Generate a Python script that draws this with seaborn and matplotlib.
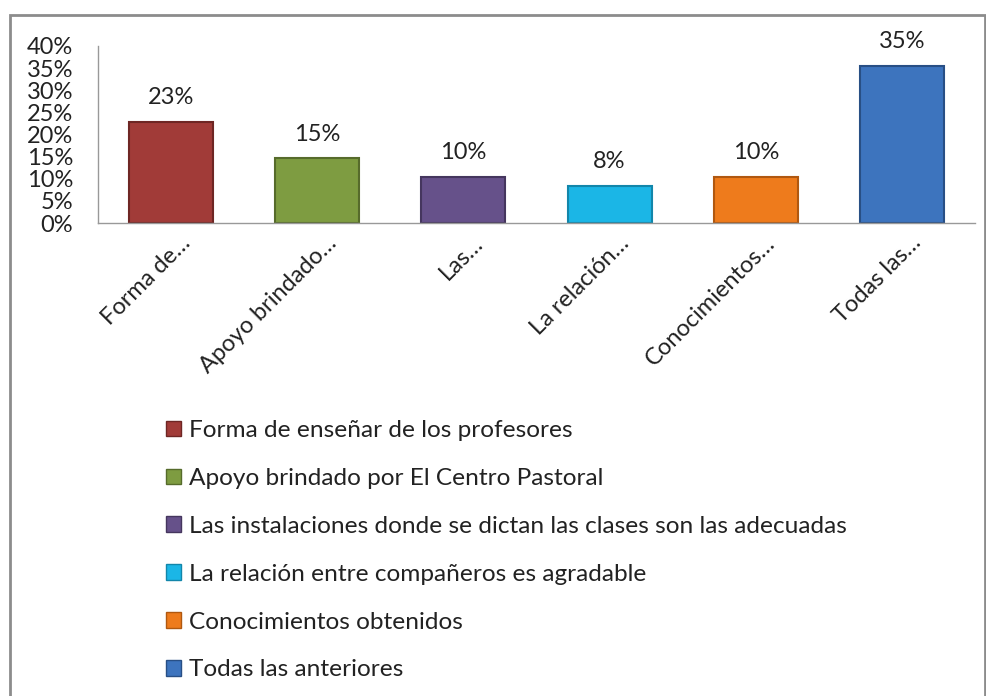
import matplotlib
matplotlib.use("Agg")
import matplotlib.pyplot as plt
import matplotlib.transforms as mtransforms
import seaborn as sns
from matplotlib.patches import Patch, Rectangle
from matplotlib.ticker import FuncFormatter, MultipleLocator

# data
categories = [
    "Forma de enseñar de los profesores",
    "Apoyo brindado por El Centro Pastoral",
    "Las instalaciones donde se dictan las clases son las adecuadas",
    "La relación entre compañeros es agradable",
    "Conocimientos obtenidos",
    "Todas las anteriores",
]
short_labels = ["Forma de…", "Apoyo brindado…", "Las…", "La relación…",
                "Conocimientos…", "Todas las…"]
values = [22.9, 14.6, 10.4, 8.3, 10.4, 35.4]
colors = ["#A13B38", "#7E9C41", "#66518A", "#1BB6E6", "#EE7B1C", "#3D74BE"]
edge_colors = ["#6E2624", "#566B2B", "#45365E", "#1286AA", "#B05810", "#284F85"]

sns.set_theme(style="white")
plt.rcParams["font.family"] = ["Lato", "DejaVu Sans"]

fig = plt.figure(figsize=(9.87, 6.96), dpi=100)
ax = fig.add_axes([98 / 987, 1 - 223 / 696, 877 / 987, 177 / 696])

sns.barplot(x=categories, y=values, hue=categories, palette=colors,
            width=0.575, legend=False, ax=ax, saturation=1)
for bar, ec in zip(ax.patches, edge_colors):
    bar.set_edgecolor(ec)
    bar.set_linewidth(1.5)

for i, v in enumerate(values):
    ax.annotate("%.0f%%" % v, (i, v), xytext=(0, 10), textcoords="offset points",
                ha="center", va="bottom", fontsize=17, color="#222222")

ax.set_xlim(-0.5, 5.5)
ax.set_ylim(0, 40)
ax.yaxis.set_major_locator(MultipleLocator(5))
ax.yaxis.set_major_formatter(FuncFormatter(lambda y, _: "%d%%" % y))
ax.tick_params(axis="y", length=0, pad=18, labelsize=17, labelcolor="#222222")
ax.tick_params(axis="x", length=0, pad=12)
ax.set_xticks(range(len(categories)))
ax.set_xticklabels(short_labels, rotation=45, ha="right", rotation_mode="anchor",
                   va="center", fontsize=17, color="#222222")
shift = mtransforms.ScaledTranslation(16 / 100, 0, fig.dpi_scale_trans)
for lbl in ax.get_xticklabels():
    lbl.set_transform(lbl.get_transform() + shift)
for s in ["top", "right"]:
    ax.spines[s].set_visible(False)
for s in ["left", "bottom"]:
    ax.spines[s].set_color("#999999")
    ax.spines[s].set_linewidth(1)

handles = [Patch(facecolor=c, edgecolor=e) for c, e in zip(colors, edge_colors)]
fig.legend(handles, categories, loc="upper left",
           bbox_to_anchor=(144 / 987, 1 - 398 / 696), frameon=False,
           fontsize=17.6, labelspacing=1.1, handlelength=0.6, handleheight=0.6,
           handletextpad=0.35, labelcolor="#222222")

fig.patches.append(Rectangle((10 / 987, -0.05), 975 / 987, 1.05 - 15 / 696,
                             transform=fig.transFigure, fill=False,
                             edgecolor="#8c8c8c", linewidth=2))

fig.savefig("out.png", dpi=100)
